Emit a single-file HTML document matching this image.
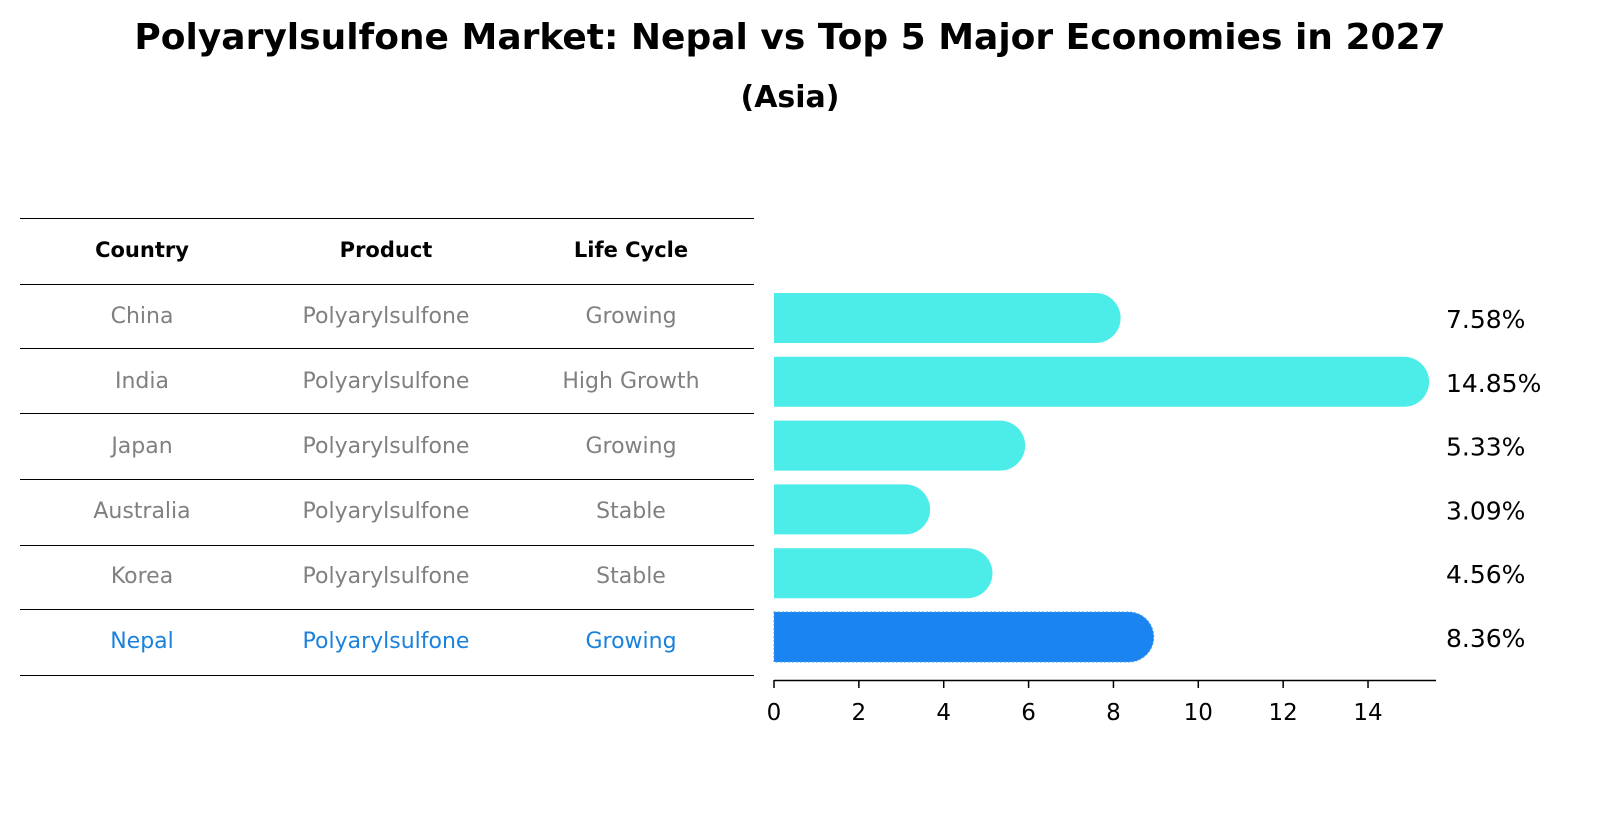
<!DOCTYPE html>
<html><head><meta charset="utf-8"><style>
body{margin:0;background:#fff;font-family:"Liberation Sans","DejaVu Sans",sans-serif}
svg text{font-family:"DejaVu Sans","Liberation Sans",sans-serif}
</style></head><body>
<svg id="c" width="1604" height="823" xmlns="http://www.w3.org/2000/svg">
<text x="790" y="49" text-anchor="middle" font-size="36" font-weight="bold">Polyarylsulfone Market: Nepal vs Top 5 Major Economies in 2027</text>
<text x="790" y="107" text-anchor="middle" font-size="30" font-weight="bold">(Asia)</text>
<g id="table"></g>
<g id="bars"></g>
</svg>
<script>
const countries=["China","India","Japan","Australia","Korea","Nepal"];
const products=["Polyarylsulfone","Polyarylsulfone","Polyarylsulfone","Polyarylsulfone","Polyarylsulfone","Polyarylsulfone"];
const lifeCycle=["Growing","High Growth","Growing","Stable","Stable","Growing"];
const values=[7.58,14.85,5.33,3.09,4.56,8.36];
const ticks=[0,2,4,6,8,10,12,14];
const NS="http://www.w3.org/2000/svg";
function mk(tag,attrs,parent,text){const e=document.createElementNS(NS,tag);for(const k in attrs)e.setAttribute(k,attrs[k]);if(text!==undefined)e.textContent=text;parent.appendChild(e);return e;}
const tb=document.getElementById('table'), bg=document.getElementById('bars');
const lineYs=[218,284,348,413,479,545,609,675];
lineYs.forEach(y=>{const l=mk('line',{x1:20,x2:754,y1:y+0.5,y2:y+0.5,stroke:'#000','stroke-width':1},tb);

});
const colX=[142,386,631];
["Country","Product","Life Cycle"].forEach((h,i)=>{const t=mk('text',{x:colX[i],y:257,'text-anchor':'middle','font-size':21,'font-weight':'bold'},tb,h);

});
const rowY=i=>316+i*65;
countries.forEach((c,i)=>{const col=c==="Nepal"?'#1a82dc':'#808080';
[c,products[i],lifeCycle[i]].forEach((v,j)=>{const t=mk('text',{x:colX[j],y:rowY(i)+7,'text-anchor':'middle','font-size':22,fill:col},tb,v);

});});
const x0=774, ppu=42.43, xs=v=>x0+v*ppu;
const bh=50;
values.forEach((v,i)=>{const cy=318+i*63.8, r=bh/2, x1=xs(v);
const col=countries[i]==="Nepal"?'#1a85f0':'#4cece9';
const p=mk('path',{d:`M${x0},${cy-r} L${x1},${cy-r} A${r},${r} 0 0 1 ${x1},${cy+r} L${x0},${cy+r} Z`,fill:col},bg);
if(countries[i]==="Nepal"){p.setAttribute('stroke','#4a9be8');p.setAttribute('stroke-dasharray','2 2');}


const t=mk('text',{x:1446,y:cy+10,'font-size':25},bg,values[i].toFixed(2)+'%');

});
const ax=mk('line',{x1:774,x2:1436,y1:680.5,y2:680.5,stroke:'#000','stroke-width':1.5},bg);


ticks.forEach(t=>{const l=mk('line',{x1:xs(t),x2:xs(t),y1:680,y2:688,stroke:'#000','stroke-width':1.5},bg);


const tx=mk('text',{x:xs(t),y:720,'text-anchor':'middle','font-size':23},bg,t);

});
</script>
</body></html>
